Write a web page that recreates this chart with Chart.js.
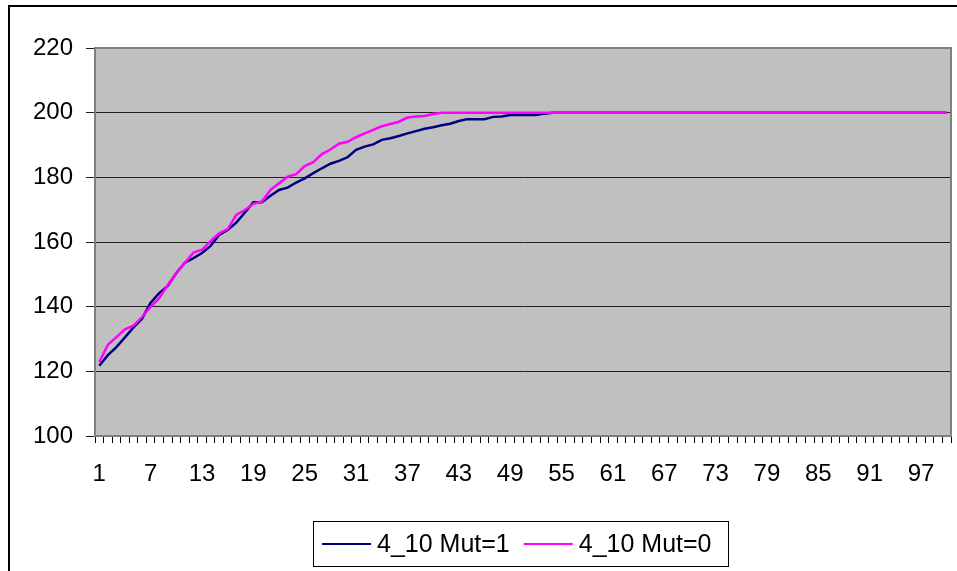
<!DOCTYPE html>
<html>
<head>
<meta charset="utf-8">
<script src="https://cdn.jsdelivr.net/npm/chart.js@4"></script>
<style>
  html, body { margin: 0; padding: 0; background: #fff; }
  #wrap { width: 957px; height: 571px; }
</style>
</head>
<body>
<div id="wrap"><canvas id="mutChart" width="957" height="571"></canvas></div>
<script>
// ---- DATA ----
const generations = Array.from({ length: 100 }, (_, i) => String(i + 1));
const xTickLabels = ["1", "7", "13", "19", "25", "31", "37", "43", "49", "55", "61", "67", "73", "79", "85", "91", "97"];
const yTicks = [100, 120, 140, 160, 180, 200, 220];

const seriesNames = ["4_10 Mut=1", "4_10 Mut=0"];
const seriesColors = ["#000080", "#ff00ff"];

const mut1 = [
  121.7, 125.0, 127.5, 130.5, 133.6, 136.3, 141.2, 144.2, 146.4, 150.4,
  153.6, 155.0, 156.6, 158.8, 162.2, 163.7, 166.0, 169.1, 172.3, 172.3,
  174.3, 176.1, 176.8, 178.4, 179.7, 181.3, 182.8, 184.2, 185.1, 186.2,
  188.5, 189.5, 190.2, 191.6, 192.1, 192.8, 193.6, 194.3, 195.0, 195.5,
  196.1, 196.6, 197.4, 198.0, 198.0, 198.0, 198.7, 198.8, 199.3, 199.3,
  199.3, 199.3, 199.7, 200, 200, 200, 200, 200, 200, 200,
  200, 200, 200, 200, 200, 200, 200, 200, 200, 200,
  200, 200, 200, 200, 200, 200, 200, 200, 200, 200,
  200, 200, 200, 200, 200, 200, 200, 200, 200, 200,
  200, 200, 200, 200, 200, 200, 200, 200, 200, 200
];

const mut0 = [
  122.9, 128.2, 130.6, 133.0, 134.1, 136.8, 140.0, 142.6, 146.7, 150.4,
  153.6, 156.7, 157.6, 160.3, 162.7, 164.0, 168.4, 169.9, 171.8, 172.5,
  176.1, 178.2, 180.2, 181.0, 183.5, 184.7, 187.2, 188.6, 190.4, 191.0,
  192.4, 193.6, 194.7, 195.8, 196.5, 197.2, 198.5, 198.8, 199.0, 199.6,
  200, 200, 200, 200, 200, 200, 200, 200, 200, 200,
  200, 200, 200, 200, 200, 200, 200, 200, 200, 200,
  200, 200, 200, 200, 200, 200, 200, 200, 200, 200,
  200, 200, 200, 200, 200, 200, 200, 200, 200, 200,
  200, 200, 200, 200, 200, 200, 200, 200, 200, 200,
  200, 200, 200, 200, 200, 200, 200, 200, 200, 200
];

const FONT = "'Liberation Sans', Arial, sans-serif";

// ---- PLOT AREA + FRAME PLUGIN ----
const plotBackground = {
  id: "plotBackground",
  beforeDraw(chart) {
    const { ctx, chartArea } = chart;
    ctx.save();
    ctx.fillStyle = "#c0c0c0";
    ctx.fillRect(chartArea.left, chartArea.top, chartArea.right - chartArea.left, chartArea.bottom - chartArea.top);
    // outer chart frame (cut off at right/bottom)
    ctx.strokeStyle = "#000";
    ctx.lineWidth = 2;
    ctx.strokeRect(9, 6, 970, 600);
    ctx.restore();
  },
  beforeDatasetsDraw(chart) {
    const { ctx, chartArea } = chart;
    ctx.save();
    ctx.strokeStyle = "#808080";
    ctx.lineWidth = 2;
    ctx.strokeRect(chartArea.left, chartArea.top, chartArea.right - chartArea.left, chartArea.bottom - chartArea.top);
    ctx.restore();
  }
};

// ---- LEGEND PLUGIN ----
const boxLegend = {
  id: "boxLegend",
  afterDraw(chart) {
    const { ctx } = chart;
    ctx.save();
    ctx.strokeStyle = "#000";
    ctx.lineWidth = 1;
    ctx.strokeRect(313.5, 521.5, 415, 45);
    ctx.font = "25px " + FONT;
    ctx.textBaseline = "middle";
    ctx.fillStyle = "#000";
    let x = 322;
    const y = 544;
    chart.data.datasets.forEach(ds => {
      ctx.strokeStyle = ds.borderColor;
      ctx.lineWidth = 2;
      ctx.beginPath();
      ctx.moveTo(x, y);
      ctx.lineTo(x + 49, y);
      ctx.stroke();
      ctx.fillText(ds.label, x + 55, y + 1);
      x += 55 + ctx.measureText(ds.label).width + 14;
    });
    ctx.restore();
  }
};

// ---- CHART ----
new Chart(document.getElementById("mutChart"), {
  type: "line",
  data: {
    labels: generations,
    datasets: [
      { label: seriesNames[0], data: mut1, borderColor: seriesColors[0], borderWidth: 2.5, pointRadius: 0, tension: 0, order: 1 },
      { label: seriesNames[1], data: mut0, borderColor: seriesColors[1], borderWidth: 2.5, pointRadius: 0, tension: 0, order: 0 }
    ]
  },
  options: {
    responsive: false,
    animation: false,
    devicePixelRatio: 1,
    layout: { padding: { left: 9, top: 48, right: 6, bottom: 0 } },
    plugins: {
      legend: { display: false },
      tooltip: { enabled: false }
    },
    scales: {
      x: {
        offset: true,
        grid: { offset: true, drawOnChartArea: false, drawTicks: true, tickLength: 7, color: "#000", tickColor: "#000" },
        border: { display: true, color: "#404040", width: 1 },
        ticks: {
          autoSkip: false,
          maxRotation: 0,
          padding: 17,
          color: "#000",
          font: { family: FONT, size: 24 },
          callback(value, index) {
            const lab = this.getLabelForValue(value);
            return xTickLabels.includes(lab) ? lab : "";
          }
        },
        afterFit(scale) {
          scale.height = 135;
          scale.paddingLeft = 0;
          scale.paddingRight = 0;
        }
      },
      y: {
        min: yTicks[0],
        max: yTicks[yTicks.length - 1],
        afterBuildTicks(scale) { scale.ticks = yTicks.map(v => ({ value: v })); },
        grid: { color: "#202020", lineWidth: 1, tickLength: 9, tickColor: "#202020" },
        border: { display: true, color: "#808080", width: 2 },
        ticks: {
          padding: 13,
          color: "#000",
          font: { family: FONT, size: 24 }
        },
        afterFit(scale) { scale.width = 86; }
      }
    }
  },
  plugins: [plotBackground, boxLegend]
});
</script>
</body>
</html>
